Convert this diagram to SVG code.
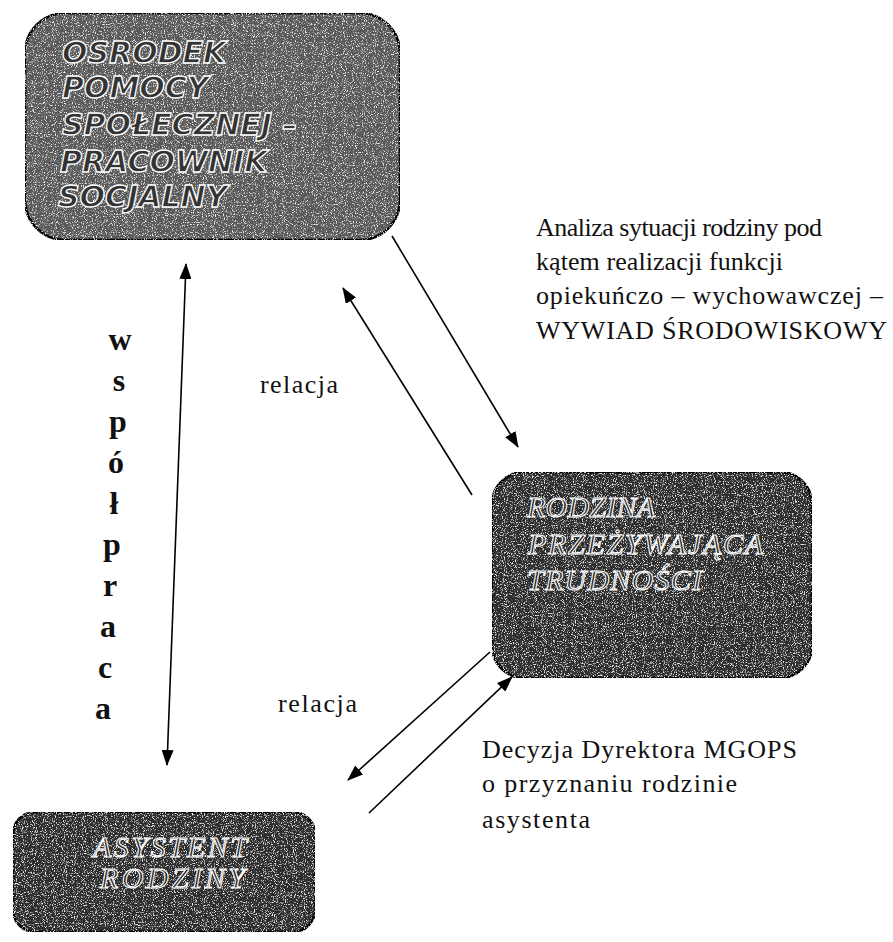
<svg xmlns="http://www.w3.org/2000/svg" width="893" height="942" viewBox="0 0 893 942">
<style>
.box{stroke:#000;stroke-width:2.5}
.b1{fill:#5a5a5a}
.b2{fill:#2e2e2e}
.sans{font-family:"DejaVu Sans",Verdana,sans-serif;font-weight:bold;font-style:italic;font-size:30px;fill:#333;stroke:#fff;stroke-width:1.3}
.ser{font-family:"Liberation Serif","Times New Roman",serif;font-style:italic;font-size:30px;fill:#222;stroke:#fff;stroke-width:1.1}
.lbl{font-family:"Liberation Serif","Times New Roman",serif;font-size:26px;fill:#111}
.vert{font-family:"Liberation Serif","Times New Roman",serif;font-weight:bold;font-size:32px;fill:#111;text-anchor:middle}
.ln{stroke:#000;stroke-width:1.6;fill:none}
</style>
<defs>
<filter id="grain" x="0" y="0" width="100%" height="100%">
<feTurbulence type="fractalNoise" baseFrequency="0.9" numOctaves="2" seed="4" result="n"/>
<feColorMatrix in="n" type="matrix" values="0 0 0 0 1  0 0 0 0 1  0 0 0 0 1  4 0 0 0 -2.2" result="sp"/>
<feComposite in="sp" in2="SourceGraphic" operator="in" result="s2"/>
<feMerge><feMergeNode in="SourceGraphic"/><feMergeNode in="s2"/></feMerge>
</filter>
<marker id="ah" viewBox="0 0 16 12" refX="15" refY="6" markerWidth="16" markerHeight="12" markerUnits="userSpaceOnUse" orient="auto-start-reverse">
<path d="M0,0 L16,6 L0,12 Z" fill="#000"/>
</marker>
</defs>
<rect width="893" height="942" fill="#fff"/>
<g id="node-ops">
<rect class="box b1" x="25" y="13" width="375" height="227" rx="40" filter="url(#grain)"/>
<text class="sans" x="62" y="63">OSRODEK</text>
<text class="sans" x="62" y="98">POMOCY</text>
<text class="sans" x="62" y="135">SPOŁECZNEJ –</text>
<text class="sans" x="60" y="172">PRACOWNIK</text>
<text class="sans" x="58" y="207">SOCJALNY</text>
</g>
<g id="node-rodzina">
<rect class="box b2" x="492" y="472" width="320" height="206" rx="32" filter="url(#grain)"/>
<text class="ser" x="527" y="517" textLength="128">RODZINA</text>
<text class="ser" x="528" y="554" textLength="235">PRZEŻYWAJĄCA</text>
<text class="ser" x="527" y="590" textLength="175">TRUDNOŚCI</text>
</g>
<g id="node-asystent">
<rect class="box b2" x="13" y="812" width="302" height="120" rx="22" filter="url(#grain)"/>
<text class="ser" x="93" y="857" font-size="28" textLength="154">ASYSTENT</text>
<text class="ser" x="100" y="888" font-size="28" textLength="145">RODZINY</text>
</g>
<g id="connectors">
<line class="ln" x1="186" y1="264" x2="167" y2="765" marker-start="url(#ah)" marker-end="url(#ah)"/>
<line class="ln" x1="392" y1="236" x2="518" y2="447" marker-end="url(#ah)"/>
<line class="ln" x1="472" y1="495" x2="343" y2="288" marker-end="url(#ah)"/>
<line class="ln" x1="490" y1="652" x2="348" y2="780" marker-end="url(#ah)"/>
<line class="ln" x1="369" y1="813" x2="512" y2="677" marker-end="url(#ah)"/>
</g>
<g id="labels">
<text class="lbl" x="536" y="236" textLength="286">Analiza sytuacji rodziny pod</text>
<text class="lbl" x="536" y="270" textLength="247">kątem realizacji funkcji</text>
<text class="lbl" x="536" y="304" textLength="347">opiekuńczo – wychowawczej –</text>
<text class="lbl" x="536" y="339" font-size="27" textLength="351">WYWIAD ŚRODOWISKOWY</text>
<text class="lbl" x="260" y="393" font-size="28" textLength="78">relacja</text>
<text class="lbl" x="278" y="712" font-size="28" textLength="79">relacja</text>
<text class="lbl" x="482" y="758" font-size="27" textLength="315">Decyzja Dyrektora MGOPS</text>
<text class="lbl" x="482" y="792" font-size="27" textLength="255">o przyznaniu rodzinie</text>
<text class="lbl" x="482" y="828" font-size="28" textLength="108">asystenta</text>
</g>
<g id="wspolpraca">
<text class="vert" x="120" y="350">w</text>
<text class="vert" x="119" y="391">s</text>
<text class="vert" x="118" y="432">p</text>
<text class="vert" x="116" y="473">ó</text>
<text class="vert" x="114" y="514">ł</text>
<text class="vert" x="112" y="555">p</text>
<text class="vert" x="110" y="596">r</text>
<text class="vert" x="108" y="637">a</text>
<text class="vert" x="105" y="678">c</text>
<text class="vert" x="103" y="719">a</text>
</g>
</svg>
